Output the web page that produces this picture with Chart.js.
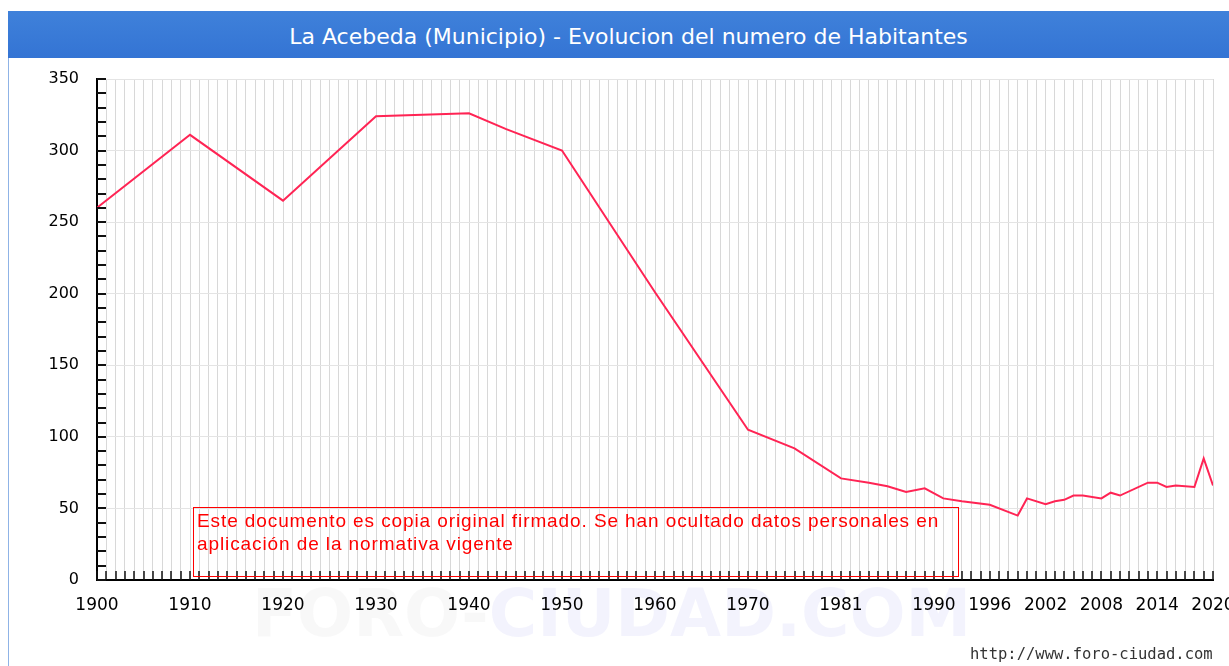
<!DOCTYPE html>
<html>
<head>
<meta charset="utf-8">
<script src="https://cdn.jsdelivr.net/npm/chart.js@4"></script>
<style>
  body { margin: 0; background: #fff; width: 1229px; height: 666px; overflow: hidden; position: relative; font-family: "DejaVu Sans", Verdana, sans-serif; }
  #bar { position: absolute; left: 8px; top: 11px; width: 1221px; height: 47px; background: linear-gradient(#3f81da, #3474d4); color: #fff; font-size: 22px; line-height: 52px; text-align: center; }
  #bar span { position: relative; left: 10px; }
  #frame { position: absolute; left: 8px; top: 58px; width: 1px; height: 608px; background: #8fb3e6; }
  #wrap { position: absolute; left: 0; top: 58px; }
  #aviso { position: absolute; left: 193px; top: 507px; width: 766px; height: 70px; border: 1px solid #ff0000; color: #ff0000; font-family: "Liberation Sans", Arial, sans-serif; font-size: 19px; letter-spacing: 0.9px; line-height: 23px; padding: 1px 0 0 3px; box-sizing: border-box; }
  #url { position: absolute; left: 970px; top: 645px; font-family: "DejaVu Sans Mono", monospace; font-size: 15.5px; color: #333; }
</style>
</head>
<body>
<div id="bar"><span>La Acebeda (Municipio) - Evolucion del numero de Habitantes</span></div>
<div id="frame"></div>
<div id="wrap"><canvas id="chart" width="1229" height="608"></canvas></div>
<div id="aviso">Este documento es copia original firmado. Se han ocultado datos personales en<br>aplicación de la normativa vigente</div>
<div id="url">http://www.foro-ciudad.com</div>
<script>
// posiciones en el eje (un hueco por año) y habitantes
const years = [1900, 1910, 1920, 1930, 1940, 1944, 1950, 1960, 1970, 1975, 1980, 1983, 1985, 1987, 1989, 1991, 1993, 1996, 1999, 2000, 2002, 2003, 2004, 2005, 2006, 2008, 2009, 2010, 2013, 2014, 2015, 2016, 2018, 2019, 2020];
const habitantes = [260, 311, 265, 324, 326, 315, 300, 201, 105, 92, 71, 68, 65.5, 61.5, 64, 57, 55, 52.5, 45, 57, 53, 55, 56, 59, 59, 57, 61, 59, 68, 68, 65, 66, 65, 85, 66];

const tickYears = [1900, 1910, 1920, 1930, 1940, 1950, 1960, 1970, 1980, 1990, 1996, 2002, 2008, 2014, 2020];
const tickLabels = ['1900', '1910', '1920', '1930', '1940', '1950', '1960', '1970', '1981', '1990', '1996', '2002', '2008', '2014', '2020'];
const yLabels = [0, 50, 100, 150, 200, 250, 300, 350];

const points = years.map((y, i) => ({ x: y, y: habitantes[i] }));

// marcas cortas hacia dentro en los dos ejes + marca de agua
const decor = {
  id: 'decor',
  beforeDraw(chart) {
    const c = chart.ctx;
    c.save();
    c.font = 'bold 66px "DejaVu Sans", Verdana, sans-serif';
    c.textBaseline = 'top';
    c.fillStyle = 'rgba(200,200,200,0.12)';
    c.fillText('FORO-', 252, 528);
    const w = c.measureText('FORO-').width;
    c.fillStyle = 'rgba(160,160,235,0.12)';
    c.fillText('CIUDAD.COM', 252 + w, 528);
    c.restore();
  },
  afterDraw(chart) {
    const c = chart.ctx;
    const xs = chart.scales.x, ys = chart.scales.y;
    const area = chart.chartArea;
    c.save();
    c.strokeStyle = '#111';
    c.lineWidth = 1.5;
    c.beginPath();
    xs.ticks.forEach(t => {
      const px = Math.round(xs.getPixelForValue(t.value));
      c.moveTo(px, area.bottom);
      c.lineTo(px, area.bottom - 9);
    });
    c.stroke();
    c.lineWidth = 2;
    c.beginPath();
    ys.ticks.forEach(t => {
      const py = Math.round(ys.getPixelForValue(t.value));
      c.moveTo(area.left, py);
      c.lineTo(area.left + 9, py);
    });
    c.stroke();
    c.restore();
  }
};

new Chart(document.getElementById('chart'), {
  type: 'line',
  data: {
    datasets: [{
      data: points,
      borderColor: '#ff2454',
      borderWidth: 2,
      pointRadius: 0,
      fill: false,
      tension: 0
    }]
  },
  options: {
    responsive: false,
    animation: false,
    devicePixelRatio: 1,
    layout: { padding: { top: 21, right: 16, left: 0, bottom: 0 } },
    plugins: { legend: { display: false }, tooltip: { enabled: false } },
    scales: {
      x: {
        type: 'linear',
        min: 1900,
        max: 2020,
        grid: { color: '#d8d8d8', drawTicks: false },
        border: { display: true, color: '#000', width: 2 },
        ticks: {
          stepSize: 1,
          maxTicksLimit: 500,
          autoSkip: false,
          maxRotation: 0,
          minRotation: 0,
          padding: 15,
          color: '#000',
          font: { family: '"DejaVu Sans", Verdana, sans-serif', size: 17 },
          callback: v => {
            const i = tickYears.indexOf(v);
            return i >= 0 ? tickLabels[i] : '';
          }
        },
        afterFit: s => { s.height = 86; s.paddingLeft = 0; s.paddingRight = 0; }
      },
      y: {
        min: 0,
        max: 350,
        grid: {
          drawTicks: false,
          color: c => (c.tick && c.tick.value !== 0 && yLabels.includes(c.tick.value)) ? '#e4e4e4' : 'rgba(0,0,0,0)'
        },
        border: { display: true, color: '#000', width: 2 },
        ticks: {
          stepSize: 10,
          autoSkip: false,
          padding: 18,
          color: '#000',
          font: { family: '"DejaVu Sans", Verdana, sans-serif', size: 16 },
          callback: v => yLabels.includes(v) ? String(v) : ''
        },
        afterFit: s => { s.width = 97; s.paddingTop = 0; s.paddingBottom = 0; }
      }
    }
  },
  plugins: [decor]
});
</script>
</body>
</html>
